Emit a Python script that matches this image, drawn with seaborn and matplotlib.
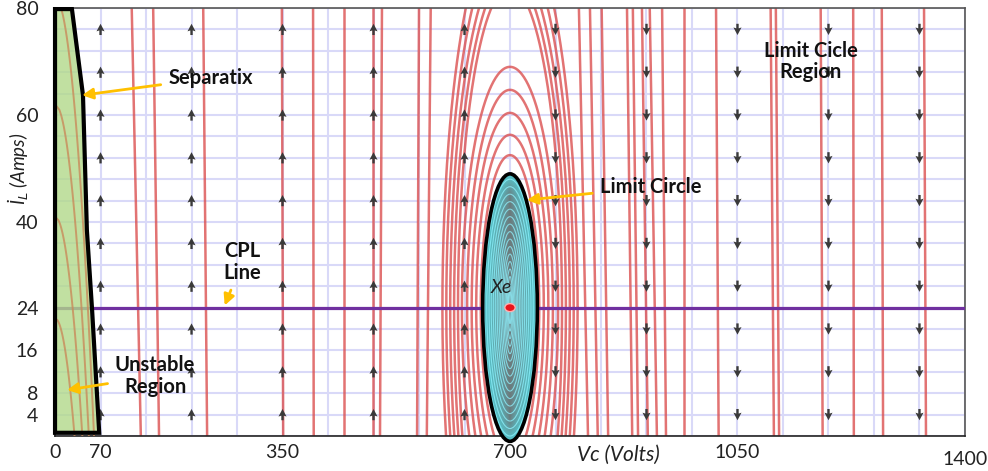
import numpy as np
import pandas as pd
import matplotlib
matplotlib.use('Agg')
import matplotlib.pyplot as plt
import matplotlib.transforms as mtransforms
from matplotlib.patches import Polygon, Ellipse
import seaborn as sns

# axis ticks
x_ticks = [0, 70, 350, 700, 1050, 1400]
y_ticks = [4, 8, 16, 24, 40, 60, 80]

# near-vertical trajectories: Vc where they meet IL=0 and IL=80
line_vc_bottom = [132, 160, 234, 351, 398, 445, 489, 500, 557, 572,
                  820, 835, 851, 888, 897, 912, 926, 940, 968,
                  1021, 1106, 1114, 1181, 1229, 1274, 1340]
line_vc_top = [118, 151, 228, 349, 397, 445, 489, 503, 560, 578,
               806, 823, 841, 880, 889, 903, 915, 934, 968,
               1017, 1101, 1109, 1178, 1228, 1272, 1337]

# orbits round Xe (half width in V, half height in A)
orbit_a = [45, 52, 59, 66, 74, 80, 86, 92, 98, 104]
orbit_b = [28.5, 32.3, 36.4, 40.7, 45, 60, 62.5, 65.5, 69.5, 74]

# equilibrium point, limit cycle, CPL line
xe_vc, xe_il = 700, 24
cycle_a, cycle_b = 42, 25
cpl_il = 24

# separatrix / unstable region outline
sep_vc = [0, 0, 26, 43, 49, 57, 68]
sep_il = [0.6, 79.8, 79.8, 63.7, 38.5, 23.6, 0.6]

# trajectories inside the unstable region (start IL on Vc=0, end Vc on IL=0)
unst_il0 = [22, 41, 62, 82]
unst_vc1 = [30, 42, 52, 60]

# direction arrows
arrow_up_vc = [70, 210, 350, 490, 630]
arrow_dn_vc = [770, 910, 1050, 1190, 1330]
arrow_il = [4, 12, 20, 28, 36, 44, 52, 60, 68, 76]

sns.set_style('white')
plt.rcParams['font.family'] = ['Lato', 'DejaVu Sans']
plt.rcParams['mathtext.fontset'] = 'dejavusans'

fig = plt.figure(figsize=(9.88, 4.71), dpi=100)
ax = fig.add_axes([0.0557, 0.0743, 0.921, 0.9087])

# build trajectory table
rows = []
for i, (xb, xt) in enumerate(zip(line_vc_bottom, line_vc_top)):
    rows.append((f'l{i}', 0, xb, 0))
    rows.append((f'l{i}', 1, xt, 80))
th = np.linspace(0, 2 * np.pi, 400)
for i, (a, b) in enumerate(zip(orbit_a, orbit_b)):
    for j, t in enumerate(th):
        rows.append((f'o{i}', j, xe_vc + a * np.cos(t), xe_il + b * np.sin(t)))
traj = pd.DataFrame(rows, columns=['traj', 'order', 'vc', 'il'])

sns.lineplot(data=traj, x='vc', y='il', units='traj', estimator=None, sort=False,
             color='#db5050', lw=1.8, alpha=0.8, ax=ax, zorder=2)

# direction arrows
uv, ui = np.meshgrid(arrow_up_vc, arrow_il)
dv, di = np.meshgrid(arrow_dn_vc, arrow_il)
qkw = dict(angles='xy', scale_units='xy', scale=1, pivot='middle', color='#3a3a3a',
           width=0.0026, headwidth=3.4, headlength=3.2, headaxislength=2.8, zorder=3)
ax.quiver(uv, ui, np.zeros_like(uv), np.full(uv.shape, 2.1), **qkw)
ax.quiver(dv, di, np.zeros_like(dv), np.full(dv.shape, -2.1), **qkw)

# CPL line
ax.axhline(cpl_il, color='#7030a0', lw=2.3, zorder=3.2)

# unstable region
ax.add_patch(Polygon(np.column_stack([sep_vc, sep_il]), closed=True,
                     facecolor='#b2d98a', edgecolor='none', alpha=0.8, zorder=4))
for y0, x1 in zip(unst_il0, unst_vc1):
    yy = np.linspace(0, min(y0, 80), 60)
    ax.plot(x1 * np.sqrt(1 - yy / y0), yy, color='#c98a5a', lw=1.4, alpha=0.8, zorder=4.5)
ax.add_patch(Polygon(np.column_stack([sep_vc, sep_il]), closed=True,
                     facecolor='none', edgecolor='black', lw=3, zorder=5,
                     joinstyle='miter', clip_on=False))

# limit cycle
c_out = np.array(matplotlib.colors.to_rgb('#55c7ce'))
c_in = np.array(matplotlib.colors.to_rgb('#6d7577'))
n_fill = 14
for k in range(n_fill):
    f = 1 - k / n_fill
    col = c_out * f + c_in * (1 - f)
    ax.add_patch(Ellipse((xe_vc, xe_il), 2 * cycle_a * f, 2 * cycle_b * (0.82 + 0.18 * f),
                         facecolor=col, edgecolor='none', zorder=5.2, clip_on=False))
for s in np.linspace(0.12, 0.96, 16):
    ax.add_patch(Ellipse((xe_vc, xe_il), 2 * cycle_a * s ** 1.6, 2 * cycle_b * s,
                         facecolor='none', edgecolor='#8ef3ff', lw=0.8, alpha=0.75,
                         zorder=5.3, clip_on=False))
ax.add_patch(Ellipse((xe_vc, xe_il), 2 * cycle_a, 2 * cycle_b, facecolor='none',
                     edgecolor='black', lw=2.6, zorder=5.5, clip_on=False))

# equilibrium point
ax.add_patch(Ellipse((xe_vc, xe_il), 16, 1.5, facecolor='#e8141c', edgecolor='#ffb0b0',
                     lw=1, zorder=7))
ax.text(686, 27.8, 'Xe', fontsize=14, fontstyle='italic', ha='center', va='center',
        color='#222222', zorder=8)

# annotations
akw = dict(arrowstyle='-|>', color='#ffc000', lw=2, mutation_scale=16, shrinkA=3, shrinkB=0)
tkw = dict(fontsize=14.5, fontweight='bold', color='#111111', zorder=9)
ax.annotate('Separatix', xy=(41.5, 63.7), xytext=(174, 66.9), ha='left', va='center',
            arrowprops=akw, **tkw)
ax.annotate('CPL\nLine', xy=(261, 24.4), xytext=(288, 32.5), ha='center', va='center',
            arrowprops=akw, linespacing=1.1, **tkw)
ax.annotate('Unstable\nRegion', xy=(18.5, 8.6), xytext=(154, 11.2), ha='center', va='center',
            arrowprops=akw, linespacing=1.1, **tkw)
ax.annotate('Limit Circle', xy=(726, 44.1), xytext=(838, 46.5), ha='left', va='center',
            arrowprops=akw, **tkw)
ax.text(1163, 70, 'Limit Cicle\nRegion', ha='center', va='center', linespacing=1.1, **tkw)

# axes
ax.set_xlim(0, 1400)
ax.set_ylim(0, 80)
ax.set_xticks(np.arange(0, 1401, 70), minor=True)
ax.set_yticks(np.arange(0, 81, 4), minor=True)
ax.set_xticks(x_ticks)
ax.set_yticks(y_ticks)
ax.set_xticklabels([str(v) for v in x_ticks])
ax.set_yticklabels([str(v) for v in y_ticks])
ax.grid(which='both', color='#d9d9f8', lw=1.5)
ax.set_axisbelow(True)
ax.tick_params(which='both', length=0)
ax.tick_params(axis='x', pad=6, labelsize=14, labelcolor='#222222')
ax.tick_params(axis='y', pad=12, labelsize=14, labelcolor='#222222')
ax.set_xlabel('')
ax.set_ylabel('İ$_{L}$ (Amps)', fontsize=13.5, fontstyle='italic', color='#222222')
ax.yaxis.set_label_coords(-0.026, 0.624)

last = ax.xaxis.get_major_ticks()[-1].label1
last.set_transform(last.get_transform() +
                   mtransforms.ScaledTranslation(0, -5 / 72, fig.dpi_scale_trans))

ax.text(866, -0.045, 'Vc (Volts)', transform=ax.get_xaxis_transform(), fontsize=15,
        fontstyle='italic', ha='center', va='center', color='#222222', clip_on=False)

for side in ['top', 'right']:
    ax.spines[side].set_color('#555555')
    ax.spines[side].set_linewidth(1.2)
for side in ['bottom', 'left']:
    ax.spines[side].set_color('#222222')
    ax.spines[side].set_linewidth(1.2)

fig.savefig('out.png', dpi=100)
